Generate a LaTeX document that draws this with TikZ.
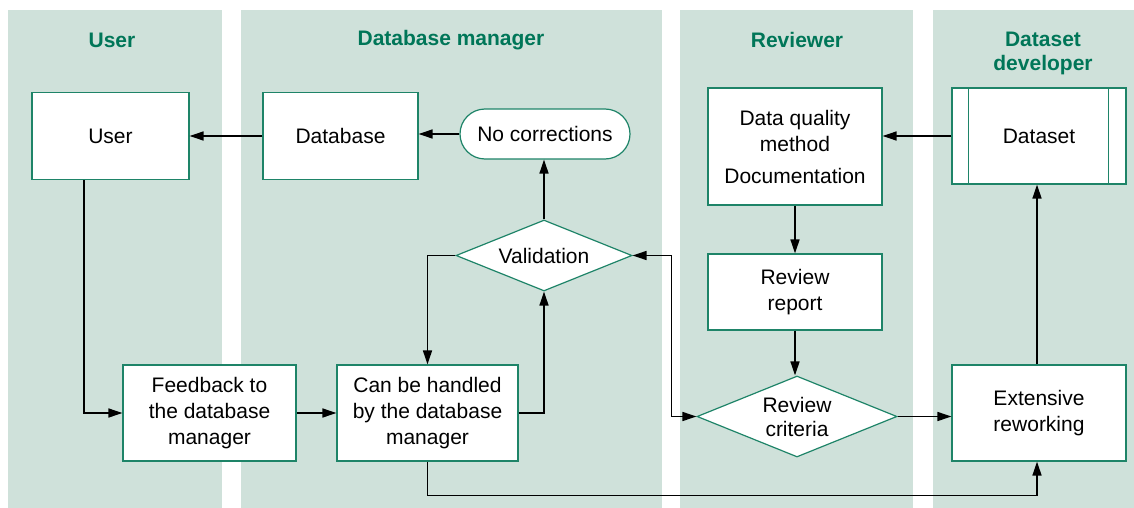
\documentclass[tikz,border=0pt]{standalone}
\usepackage{fontspec}
\setmainfont{Liberation Sans}
\usetikzlibrary{shapes.geometric,arrows.meta}
\definecolor{lanefill}{RGB}{207,225,218}
\definecolor{headgreen}{RGB}{0,118,88}
\definecolor{boxline}{RGB}{30,132,104}
\begin{document}
\begin{tikzpicture}[x=1pt,y=-1pt,
  lane/.style={fill=lanefill,draw=none},
  head/.style={font=\fontsize{21}{25}\selectfont\bfseries,text=headgreen,align=center},
  box/.style={draw=boxline,line width=1.2pt,fill=white,align=center,inner sep=0pt,
    font=\fontsize{21}{26}\selectfont},
  dia/.style={draw=boxline,line width=1.2pt,fill=white,align=center,diamond,inner sep=0pt,
    font=\fontsize{21}{25}\selectfont},
  arr/.style={line width=1.6pt,-{Triangle[length=14pt,width=9pt]}},
  darr/.style={line width=1.6pt,{Triangle[length=14pt,width=9pt]}-{Triangle[length=14pt,width=9pt]}}
]
\useasboundingbox (0,0) rectangle (1134,508);
% lanes
\fill[lane] (8,10) rectangle (222,508);
\fill[lane] (241,10) rectangle (662,508);
\fill[lane] (680,10) rectangle (913,508);
\fill[lane] (933,10) rectangle (1134,508);
% headings
\node[head] (h1) at (112,40) {User};
\node[head] (h2) at (451,40) {Database manager};
\node[head] (h3) at (797,40) {Reviewer};
\node[head,font=\fontsize{21}{24}\selectfont\bfseries] (h4) at (1043,53.5) {Dataset\\developer};
% boxes
\node[box,minimum width=157pt,minimum height=87pt] (user) at (110.5,136) {User};
\node[box,minimum width=155pt,minimum height=87pt] (db) at (340.5,136) {Database};
\node[box,minimum width=170pt,minimum height=50pt,rounded corners=25pt] (nocorr) at (545,134) {No corrections};
\node[dia,aspect=2.48,minimum width=176pt,minimum height=71pt] (valid) at (544,255.5) {Validation};
\node[box,minimum width=174pt,minimum height=117pt] (dq) at (795,146.5) {Data quality\\method\\[6pt]Documentation};
\node[box,minimum width=174pt,minimum height=96pt] (dataset) at (1039,136) {Dataset};
\draw[boxline,line width=1.2pt] ([xshift=17pt]dataset.north west) -- ([xshift=17pt]dataset.south west);
\draw[boxline,line width=1.2pt] ([xshift=-18pt]dataset.north east) -- ([xshift=-18pt]dataset.south east);
\node[box,minimum width=174pt,minimum height=76pt] (rr) at (795,292) {Review\\report};
\node[dia,aspect=2.47,minimum width=200pt,minimum height=81pt,font=\fontsize{21}{24}\selectfont] (crit) at (797,416.5) {Review\\criteria};
\node[box,minimum width=174pt,minimum height=96pt] (ext) at (1039,413) {\raisebox{5pt}{\begin{tabular}{@{}c@{}}Extensive\\reworking\end{tabular}}};
\node[box,minimum width=173pt,minimum height=96pt] (fb) at (209.5,413) {Feedback to\\the database\\manager};
\node[box,minimum width=181pt,minimum height=96pt] (can) at (427.5,413) {Can be handled\\by the database\\manager};
% connectors
\draw[arr] (db.west) -- (user.east);
\draw[arr] (nocorr.west) -- (nocorr.west -| db.east);
\draw[arr] (valid.north) -- (valid.north |- nocorr.south);
\draw[arr] ([xshift=-26.5pt]user.south) |- (fb.west);
\draw[arr] (fb.east) -- (can.west);
\draw[arr] (can.east) -| (valid.south);
\draw[arr] (valid.west) -| (can.north);
\draw[darr] (valid.east) -- ++(39,0) |- (crit.west);
\draw[arr] (dq.south) -- (rr.north);
\draw[arr] (rr.south) -- (rr.south |- crit.north);
\draw[arr] (crit.east) -- (crit.east -| ext.west);
\draw[arr] ([xshift=-2pt]ext.north) -- ([xshift=-2pt]dataset.south);
\draw[arr] (dataset.west) -- (dataset.west -| dq.east);
\draw[arr] (can.south) -- ++(0,34) -| ([xshift=-2pt]ext.south);
\end{tikzpicture}
\end{document}
